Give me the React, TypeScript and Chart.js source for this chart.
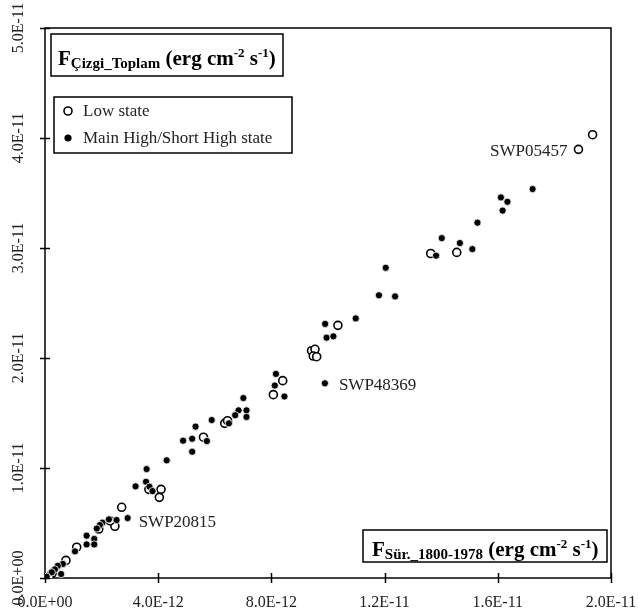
import React, { useEffect, useRef } from 'react';
import { Chart, registerables } from 'chart.js';

Chart.register(...registerables);

const U = 1e-12;

// Low state (open circles), values in units of 1e-12
const lowX = [19.35, 18.85, 14.55, 13.63, 10.35, 9.42, 9.54, 9.48, 9.6, 8.4, 8.07, 6.35, 6.45, 5.6, 4.1, 4.04, 3.67, 2.71, 2.47, 2.3, 1.9, 1.12, 0.74, 0.25, 0.15];
const lowY = [40.3, 38.97, 29.6, 29.5, 22.97, 20.66, 20.79, 20.18, 20.12, 17.94, 16.67, 14.06, 14.3, 12.8, 8.06, 7.33, 8.06, 6.43, 4.7, 5.2, 4.45, 2.8, 1.6, 0.43, 0.06];

// Main High / Short High state (filled dots)
const highX = [17.23, 16.11, 16.34, 16.17, 15.28, 14.02, 14.66, 15.1, 13.82, 12.04, 11.8, 12.37, 10.98, 9.9, 9.95, 10.19, 9.89, 8.16, 8.12, 8.46, 7.01, 6.84, 7.12, 6.72, 7.12, 6.5, 5.89, 5.32, 4.88, 5.2, 5.72, 5.2, 4.3, 3.59, 3.2, 3.57, 3.69, 3.8, 2.92, 2.53, 2.26, 2.03, 1.94, 1.83, 1.47, 1.74, 1.47, 1.74, 1.06, 0.63, 0.45, 0.35, 0.24, 0.57, 0.06];
const highY = [35.36, 34.6, 34.2, 33.4, 32.3, 30.9, 30.45, 29.9, 29.3, 28.2, 25.7, 25.6, 23.6, 23.1, 21.85, 21.97, 17.7, 18.55, 17.5, 16.5, 16.36, 15.24, 15.24, 14.8, 14.64, 14.06, 14.36, 13.76, 12.48, 12.66, 12.45, 11.48, 10.7, 9.9, 8.33, 8.75, 8.3, 7.9, 5.45, 5.27, 5.33, 5.03, 4.82, 4.5, 3.85, 3.55, 3.05, 3.05, 2.42, 1.28, 1.1, 0.79, 0.52, 0.36, 0.12];

const seriesLabels = ['Low state', 'Main High/Short High state'];

const xTickValues = [0, 4e-12, 8e-12, 1.2e-11, 1.6e-11, 2e-11];
const xTickLabels = ['0.0E+00', '4.0E-12', '8.0E-12', '1.2E-11', '1.6E-11', '2.0E-11'];
const yTickValues = [0, 1e-11, 2e-11, 3e-11, 4e-11, 5e-11];
const yTickLabels = ['0.0E+00', '1.0E-11', '2.0E-11', '3.0E-11', '4.0E-11', '5.0E-11'];

const annotationNames = ['SWP05457', 'SWP48369', 'SWP20815'];
const annotationX = [18.85, 9.89, 2.92];
const annotationY = [38.97, 17.7, 5.45];

// axis titles as rich text parts: [text, kind] kind: n = normal, sub, sup
const yTitleParts: [string, string][] = [['F', 'n'], ['Çizgi_Toplam', 'sub'], [' (erg cm', 'n'], ['-2', 'sup'], [' s', 'n'], ['-1', 'sup'], [')', 'n']];
const xTitleParts: [string, string][] = [['F', 'n'], ['Sür._1800-1978', 'sub'], [' (erg cm', 'n'], ['-2', 'sup'], [' s', 'n'], ['-1', 'sup'], [')', 'n']];

const FONT = '"Liberation Serif", "Times New Roman", serif';

function drawRich(ctx: CanvasRenderingContext2D, x: number, y: number, parts: [string, string][]) {
  ctx.textAlign = 'left';
  ctx.textBaseline = 'alphabetic';
  for (const [t, k] of parts) {
    const size = k === 'n' ? 21 : k === 'sub' ? 15 : 13;
    const dy = k === 'sub' ? 3 : k === 'sup' ? -8 : 0;
    ctx.font = `bold ${size}px ${FONT}`;
    ctx.fillText(t, x, y + dy);
    x += ctx.measureText(t).width;
  }
}

const decorPlugin = {
  id: 'decor',
  beforeDatasetsDraw(chart: any) {
    const { ctx, chartArea: a, scales } = chart;
    const xs = scales.x;
    const ys = scales.y;
    ctx.save();
    ctx.strokeStyle = '#000';
    ctx.lineWidth = 1.5;
    ctx.strokeRect(a.left, a.top, a.right - a.left, a.bottom - a.top);
    ctx.beginPath();
    xTickValues.forEach((v) => {
      const px = Math.round(xs.getPixelForValue(v)) + 0.5;
      ctx.moveTo(px, a.bottom - 5);
      ctx.lineTo(px, a.bottom + 5);
    });
    yTickValues.forEach((v) => {
      const py = Math.round(ys.getPixelForValue(v)) + 0.5;
      ctx.moveTo(a.left - 5, py);
      ctx.lineTo(a.left + 5, py);
    });
    ctx.stroke();

    ctx.fillStyle = '#222';
    ctx.font = `16px ${FONT}`;
    ctx.textAlign = 'center';
    ctx.textBaseline = 'middle';
    xTickValues.forEach((v, i) => {
      ctx.fillText(xTickLabels[i], xs.getPixelForValue(v), a.bottom + 25);
    });
    yTickValues.forEach((v, i) => {
      ctx.save();
      ctx.translate(a.left - 26, ys.getPixelForValue(v));
      ctx.rotate(-Math.PI / 2);
      ctx.fillText(yTickLabels[i], 0, 0);
      ctx.restore();
    });
    ctx.restore();
  },
  afterDatasetsDraw(chart: any) {
    const { ctx, chartArea: a, scales } = chart;
    const xs = scales.x;
    const ys = scales.y;
    ctx.save();
    // annotations
    ctx.fillStyle = '#222';
    ctx.font = `17px ${FONT}`;
    ctx.textBaseline = 'middle';
    const offs = [[-11, 2, 'right'], [14, 2, 'left'], [11, 4, 'left']];
    annotationNames.forEach((n, i) => {
      const px = xs.getPixelForValue(annotationX[i] * U);
      const py = ys.getPixelForValue(annotationY[i] * U);
      ctx.textAlign = offs[i][2] as CanvasTextAlign;
      ctx.fillText(n, px + (offs[i][0] as number), py + (offs[i][1] as number));
    });

    // y title box (top-left)
    ctx.strokeStyle = '#000';
    ctx.lineWidth = 1.5;
    ctx.fillStyle = '#fff';
    const b1 = { x: a.left + 6, y: a.top + 6, w: 232, h: 42 };
    ctx.fillRect(b1.x, b1.y, b1.w, b1.h);
    ctx.strokeRect(b1.x, b1.y, b1.w, b1.h);
    ctx.fillStyle = '#000';
    drawRich(ctx, b1.x + 7, b1.y + 31, yTitleParts);

    // x title box (bottom-right)
    const b2 = { x: a.right - 248, y: a.bottom - 48, w: 244, h: 32 };
    ctx.fillStyle = '#fff';
    ctx.fillRect(b2.x, b2.y, b2.w, b2.h);
    ctx.strokeRect(b2.x, b2.y, b2.w, b2.h);
    ctx.fillStyle = '#000';
    drawRich(ctx, b2.x + 9, b2.y + 26, xTitleParts);

    // legend box
    const lg = { x: a.left + 9, y: a.top + 69, w: 238, h: 56 };
    ctx.fillStyle = '#fff';
    ctx.fillRect(lg.x, lg.y, lg.w, lg.h);
    ctx.strokeRect(lg.x, lg.y, lg.w, lg.h);
    chart.data.datasets.forEach((ds: any, i: number) => {
      const cy = lg.y + 14 + i * 27;
      const cx = lg.x + 14;
      ctx.beginPath();
      ctx.arc(cx, cy, ds.pointRadius, 0, Math.PI * 2);
      ctx.fillStyle = ds.pointBackgroundColor;
      ctx.fill();
      if (ds.pointBorderColor !== '#fff') {
        ctx.lineWidth = ds.pointBorderWidth;
        ctx.strokeStyle = ds.pointBorderColor;
        ctx.stroke();
      }
      ctx.fillStyle = '#222';
      ctx.font = `17px ${FONT}`;
      ctx.textAlign = 'left';
      ctx.textBaseline = 'middle';
      ctx.fillText(ds.label, lg.x + 29, cy + 1);
    });
    ctx.restore();
  },
};

export default function App() {
  const ref = useRef<HTMLCanvasElement | null>(null);
  useEffect(() => {
    if (!ref.current) return;
    const chart = new Chart(ref.current, {
      type: 'scatter',
      data: {
        datasets: [
          {
            label: seriesLabels[0],
            data: lowX.map((x, i) => ({ x: x * U, y: lowY[i] * U })),
            pointRadius: 4,
            pointBackgroundColor: '#fff',
            pointBorderColor: '#000',
            pointBorderWidth: 1.6,
            order: 1,
          },
          {
            label: seriesLabels[1],
            data: highX.map((x, i) => ({ x: x * U, y: highY[i] * U })),
            pointRadius: 3.6,
            pointBackgroundColor: '#000',
            pointBorderColor: '#fff',
            pointBorderWidth: 0.8,
            order: 0,
          },
        ],
      },
      options: {
        animation: false,
        responsive: true,
        maintainAspectRatio: false,
        layout: { padding: { left: 45, top: 28, right: 27, bottom: 36 } },
        plugins: { legend: { display: false }, tooltip: { enabled: false } },
        scales: {
          x: { type: 'linear', min: 0, max: 2e-11, display: false },
          y: { type: 'linear', min: 0, max: 5e-11, display: false },
        },
      },
      plugins: [decorPlugin],
    });
    return () => chart.destroy();
  }, []);
  return (
    <div style={{ position: 'fixed', left: 0, top: 0, width: 638, height: 614, background: '#fff' }}>
      <canvas ref={ref} />
    </div>
  );
}
